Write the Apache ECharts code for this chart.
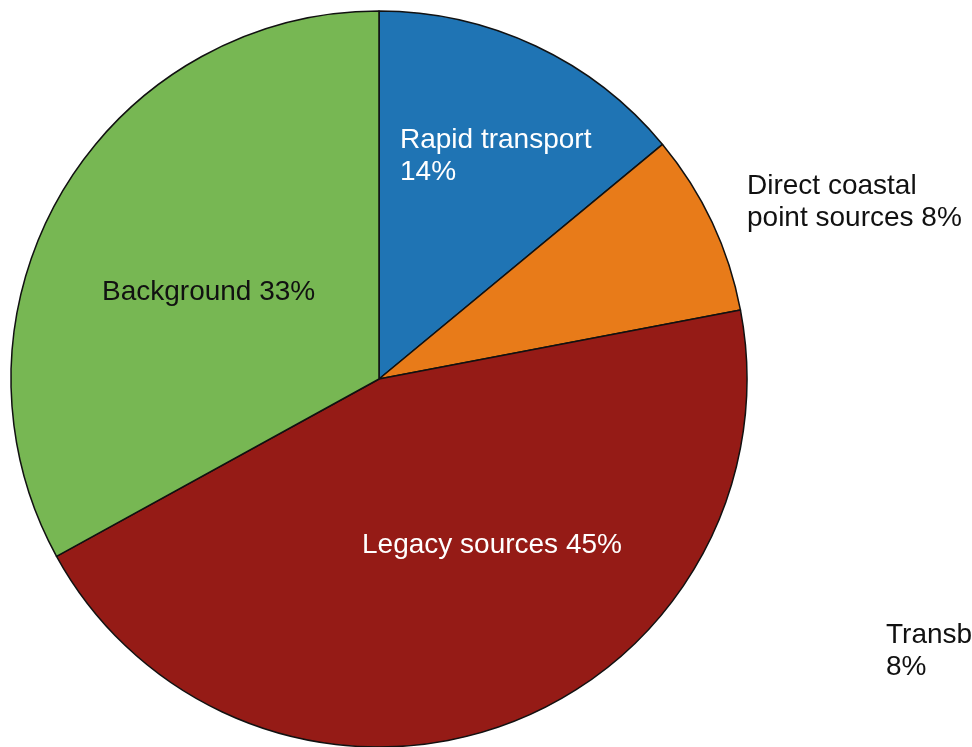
<!DOCTYPE html>
<html>
<head>
<meta charset="utf-8">
<script src="https://cdn.jsdelivr.net/npm/echarts@6/dist/echarts.min.js"></script>
<style>
  html, body { margin: 0; padding: 0; background: #ffffff; }
  #chart { width: 972px; height: 747px; }
</style>
</head>
<body>
<div id="chart"></div>
<script>
// Source shares (percent)
const categories = ['Rapid transport', 'Direct coastal point sources', 'Legacy sources', 'Background'];
const shares = [14, 8, 45, 33];
// Label text as displayed, with line breaks
const labelTexts = ['Rapid transport\n14%', 'Direct coastal\npoint sources 8%', 'Legacy sources 45%', 'Background 33%'];
// Separate annotation
const extraLabel = 'Transboundary\n8%';

const colors = ['#1f74b4', '#e87b19', '#951b16', '#77b753'];
const textColors = ['#ffffff', '#111111', '#ffffff', '#111111'];
// Label anchor points (left edge, vertical middle of the text block)
const labelAnchors = [[400, 156], [747, 202], [362, 545], [102, 292]];

const chart = echarts.init(document.getElementById('chart'));
chart.setOption({
  animation: false,
  backgroundColor: '#ffffff',
  series: [{
    type: 'pie',
    center: [379, 379],
    radius: 368,
    startAngle: 90,
    clockwise: true,
    avoidLabelOverlap: false,
    itemStyle: { borderColor: '#111111', borderWidth: 1.5 },
    emphasis: { disabled: true },
    labelLine: { show: false },
    label: {
      show: true,
      position: 'inside',
      fontFamily: 'Liberation Sans, Arial, sans-serif',
      fontSize: 28,
      lineHeight: 32,
      align: 'left',
      verticalAlign: 'middle',
      formatter: p => labelTexts[p.dataIndex]
    },
    labelLayout: p => ({
      x: labelAnchors[p.dataIndex][0],
      y: labelAnchors[p.dataIndex][1],
      align: 'left',
      verticalAlign: 'middle'
    }),
    data: categories.map((c, i) => ({
      name: c,
      value: shares[i],
      itemStyle: { color: colors[i] },
      label: { color: textColors[i] }
    }))
  }],
  graphic: [{
    type: 'text',
    left: 886,
    top: 619,
    style: {
      text: extraLabel,
      fontFamily: 'Liberation Sans, Arial, sans-serif',
      fontSize: 28,
      lineHeight: 32,
      fill: '#111111'
    }
  }]
});
</script>
</body>
</html>
